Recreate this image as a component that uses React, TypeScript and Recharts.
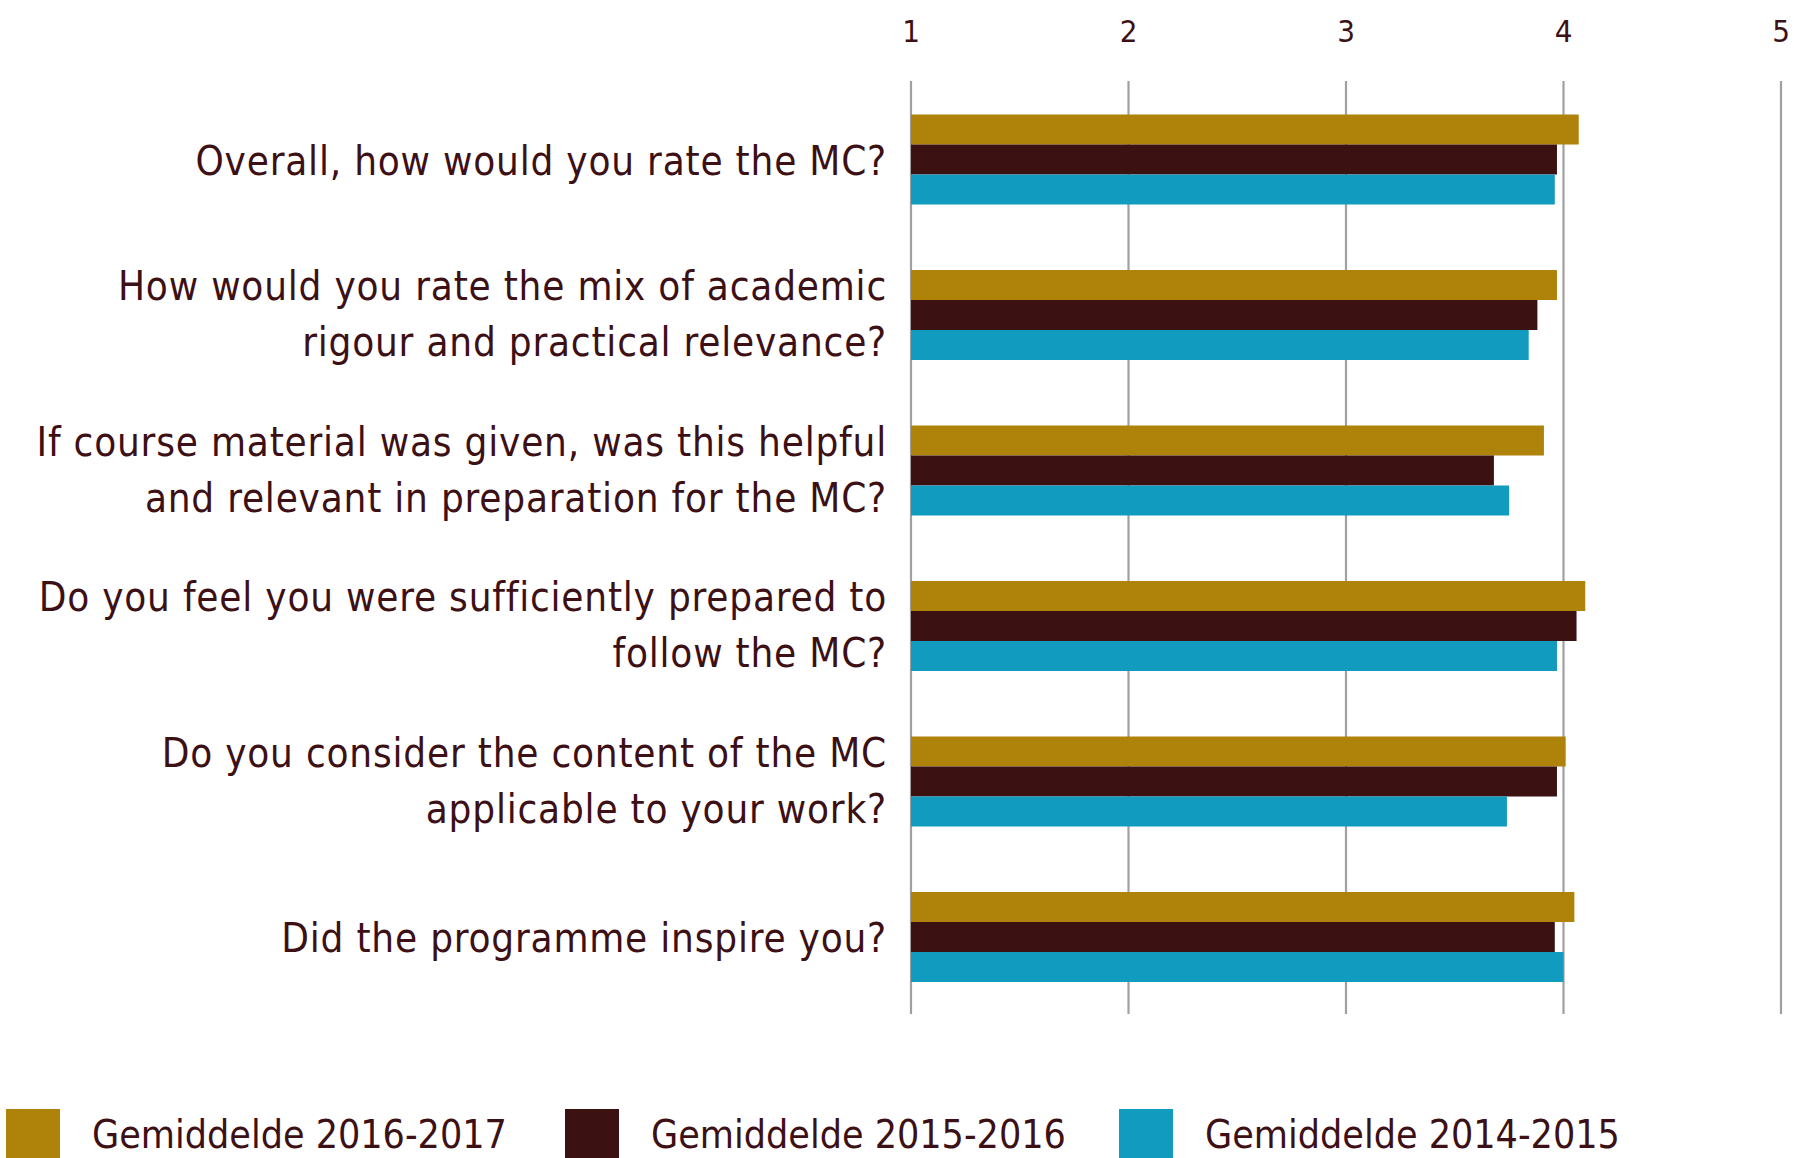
import React from 'react';
import { BarChart, Bar, XAxis, YAxis, CartesianGrid } from 'recharts';

// survey questions (\n = line break in the axis label)
const questions = [
  'Overall, how would you rate the MC?',
  'How would you rate the mix of academic\nrigour and practical relevance?',
  'If course material was given, was this helpful\nand relevant in preparation for the MC?',
  'Do you feel you were sufficiently prepared to\nfollow the MC?',
  'Do you consider the content of the MC\napplicable to your work?',
  'Did the programme inspire you?',
];

const avg2016_2017 = [4.07, 3.97, 3.91, 4.1, 4.01, 4.05];
const avg2015_2016 = [3.97, 3.88, 3.68, 4.06, 3.97, 3.96];
const avg2014_2015 = [3.96, 3.84, 3.75, 3.97, 3.74, 4.0];

const scoreTicks = [1, 2, 3, 4, 5];

const seriesKeys = ['y1617', 'y1516', 'y1415'];
const seriesNames = ['Gemiddelde 2016-2017', 'Gemiddelde 2015-2016', 'Gemiddelde 2014-2015'];
const seriesColors = ['#AF820A', '#3C1112', '#119BBF'];

const TEXT = '#3C1014';
const FONT = "'DejaVu Sans Condensed', 'DejaVu Sans', sans-serif";

const data = questions.map((q, i) => ({
  question: q,
  y1617: avg2016_2017[i],
  y1516: avg2015_2016[i],
  y1415: avg2014_2015[i],
}));

const QuestionTick = ({ x, y, payload }: any) => {
  const lines = String(payload.value).split('\n');
  const single = lines.length === 1;
  return (
    <text x={x} y={y} textAnchor="end" fill={TEXT} fontSize={40} fontFamily={FONT} letterSpacing={0.8}>
      {lines.map((line, i) => (
        <tspan key={i} x={x} y={y + (i - (lines.length - 1) / 2) * 56 + (single ? 16 : 14)}>
          {line}
        </tspan>
      ))}
    </text>
  );
};

const ScoreTick = ({ x, y, payload }: any) => (
  <text x={x} y={y} textAnchor="middle" fill={TEXT} fontSize={31} fontFamily={FONT}>
    {payload.value}
  </text>
);

export default function App() {
  return (
    <div style={{ position: 'absolute', left: 0, top: 0, width: 1794, height: 1158, overflow: 'hidden', background: '#fff' }}>
      <BarChart
        width={1794}
        height={1158}
        data={data}
        layout="vertical"
        margin={{ top: 21, right: 13, bottom: 144, left: 0 }}
        barCategoryGap="21.5%"
        barGap={0}
      >
        <CartesianGrid horizontal={false} stroke="#a0a0a0" strokeWidth={2.2} />
        <XAxis
          type="number"
          orientation="top"
          domain={[1, 5]}
          ticks={scoreTicks}
          height={60}
          axisLine={false}
          tickLine={false}
          tickSize={0}
          tickMargin={39}
          tick={<ScoreTick />}
          interval={0}
        />
        <YAxis
          type="category"
          dataKey="question"
          width={911}
          axisLine={false}
          tickLine={false}
          tickSize={0}
          tickMargin={24}
          tick={<QuestionTick />}
          interval={0}
        />
        {seriesKeys.map((k, i) => (
          <Bar key={k} dataKey={k} name={seriesNames[i]} fill={seriesColors[i]} isAnimationActive={false} />
        ))}
      </BarChart>

      {/* legend along the bottom edge */}
      <svg width={1794} height={58} style={{ position: 'absolute', left: 0, top: 1100 }}>
        {seriesNames.map((name, i) => {
          const left = [6, 565, 1119][i];
          return (
            <g key={name}>
              <rect x={left} y={9} width={54} height={60} fill={seriesColors[i]} />
              <text x={left + 86} y={48} fill={TEXT} fontSize={39} fontFamily={FONT}>
                {name}
              </text>
            </g>
          );
        })}
      </svg>
    </div>
  );
}
